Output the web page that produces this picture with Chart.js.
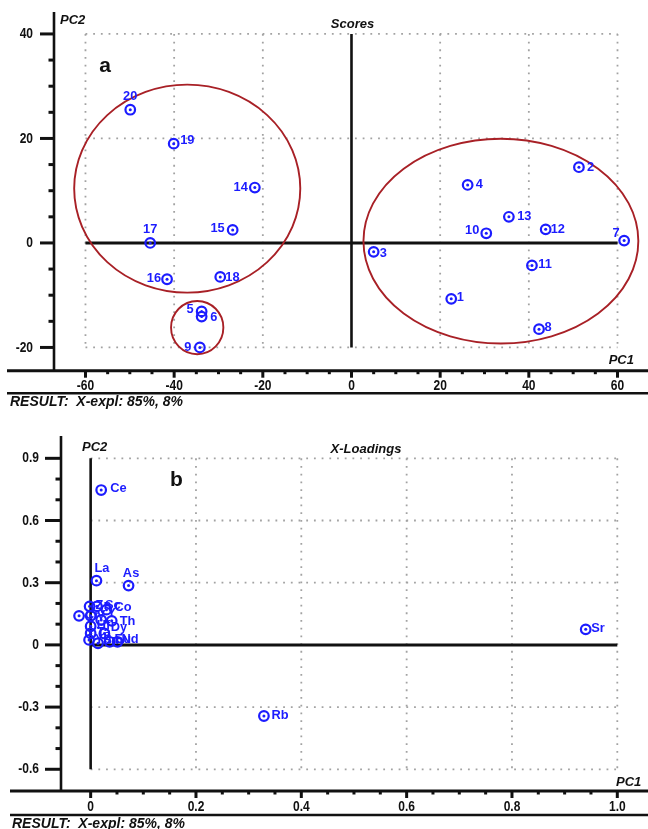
<!DOCTYPE html>
<html><head><meta charset="utf-8">
<script src="https://cdn.jsdelivr.net/npm/chart.js@4/dist/chart.umd.min.js"></script>
<style>
html,body{margin:0;padding:0;background:#fff;}
#wrap{position:relative;width:648px;height:829px;overflow:hidden;background:#fff;}
canvas{position:absolute;left:0;}
#c1{top:0;} #c2{top:410px;}
</style></head><body>
<div id="wrap"><canvas id="c1" width="648" height="410"></canvas><canvas id="c2" width="648" height="419"></canvas></div>
<script>
// ---------- Panel a: Scores ----------
const scoreLabels = ['1','2','3','4','5','6','7','8','9','10','11','12','13','14','15','16','17','18','19','20'];
const scorePC1 = [22.5, 51.3, 5.0, 26.2, -33.8, -33.8, 61.5, 42.3, -34.2, 30.4, 40.7, 43.8, 35.5, -21.8, -26.8, -41.6, -45.4, -29.6, -40.1, -49.9];
const scorePC2 = [-10.7, 14.5, -1.7, 11.1, -13.1, -14.1, 0.45, -16.5, -20.0, 1.85, -4.3, 2.6, 5.0, 10.6, 2.5, -6.95, 0.0, -6.5, 19.0, 25.5];
const scoreXTicks = [-60, -40, -20, 0, 20, 40, 60];
const scoreYTicks = [40, 20, 0, -20];
const groupCenterPC1 = [-37.05, -34.8, 33.7];
const groupCenterPC2 = [10.4, -16.2, 0.35];
const groupRadiusPC1 = [25.5, 5.9, 31.0];
const groupRadiusPC2 = [19.9, 5.1, 19.6];

// ---------- Panel b: X-Loadings ----------
const loadingLabels = ['Ce','La','As','Rb','Sr','Cr','Zn','Sc','Co','V','Y','Th','Hf','Ta','Dy','Yb','Sm','Eu','Nd'];
const loadingPC1 = [0.020, 0.011, 0.072, 0.329, 0.940, -0.022, -0.002, 0.012, 0.030, 0.000, 0.020, 0.040, 0.000, 0.000, 0.026, -0.003, 0.014, 0.036, 0.051];
const loadingPC2 = [0.747, 0.310, 0.286, -0.343, 0.075, 0.140, 0.186, 0.186, 0.170, 0.140, 0.120, 0.116, 0.090, 0.056, 0.055, 0.024, 0.008, 0.015, 0.015];
const loadXTicks = ['0', '0.2', '0.4', '0.6', '0.8', '1.0'];
const loadYTicks = ['0.9', '0.6', '0.3', '0', '-0.3', '-0.6'];

// ---------- styles ----------
const BLUE = 'rgb(28,28,255)';
const RED = 'rgb(168,32,38)';
const FA = "'Liberation Sans',Arial,'DejaVu Sans',sans-serif";

// label offsets [dx, dy, align] relative to marker centre (pixels)
const scoreLabelPos = {
  '1':[5.5,-2,'left'],'2':[8,0,'left'],'3':[6,1,'left'],'4':[8,-1,'left'],'5':[-8,-2,'right'],'6':[8.5,1,'left'],
  '7':[-4.5,-7.5,'right'],'8':[5.5,-2,'left'],'9':[-8.5,-0.6,'right'],'10':[-7,-2.6,'right'],'11':[6.3,-1,'left'],
  '12':[5,0,'left'],'13':[8.3,-0.5,'left'],'14':[-7,0,'right'],'15':[-8,-1.3,'right'],'16':[-6,-1,'right'],
  '17':[0,-13.7,'center'],'18':[5,0,'left'],'19':[6.5,-3,'left'],'20':[0,-13.3,'center']
};
const loadLabelPos = {
  'Ce':[9,-2,'left'],'La':[-2,-12,'left'],'As':[2.5,-12,'center'],'Rb':[7.5,-1,'left'],'Sr':[5.5,-1,'left'],
  'Sc':[8,-1.5,'left'],'Co':[8,-2,'left'],'Y':[6,-7,'left'],'Th':[8,0,'left'],'Dy':[6.5,-6.6,'left'],
  'Sm':[5,-3,'left'],'Eu':[5,-3,'left'],'Nd':[4,-3,'left']
};

function seg(ctx, x1, y1, x2, y2) { ctx.beginPath(); ctx.moveTo(x1, y1); ctx.lineTo(x2, y2); ctx.stroke(); }
// horizontally condensed text (the reference uses a narrow face)
function narrowText(ctx, t, x, y, align, sx) {
  ctx.save(); ctx.translate(x, y); ctx.scale(sx, 1); ctx.textAlign = align; ctx.fillText(t, 0, 0); ctx.restore();
}

function panelPlugin(p) {
  return {
    id: 'panel_' + p.id,
    beforeDatasetsDraw(chart) {
      const ctx = chart.ctx, xs = chart.scales.x, ys = chart.scales.y;
      const X = v => xs.getPixelForValue(v), Y = v => ys.getPixelForValue(v);
      const xt = p.xTicks.map(Number), yt = p.yTicks.map(Number);
      const x0 = xt[0], x1 = xt[xt.length - 1], yTop = yt[0], yBot = yt[yt.length - 1];
      ctx.save();
      ctx.strokeStyle = '#a2a2a2'; ctx.lineWidth = 1.8; ctx.setLineDash([1.8, 5.9]);
      xt.filter(v => v !== 0).forEach(v => seg(ctx, X(v), Y(yTop), X(v), Y(yBot)));
      yt.filter(v => v !== 0).forEach(v => seg(ctx, X(x0), Y(v), X(x1), Y(v)));
      ctx.setLineDash([]);
      ctx.strokeStyle = '#111'; ctx.lineWidth = 3;
      seg(ctx, X(x0), Y(0), X(x1), Y(0));
      ctx.lineWidth = 2.6;
      seg(ctx, X(0), Y(yTop), X(0), Y(yBot));
      if (p.groups) {
        ctx.strokeStyle = RED; ctx.lineWidth = 1.9;
        p.groups.cx.forEach((cx, i) => {
          const cy = p.groups.cy[i];
          const rx = Math.abs(X(cx + p.groups.rx[i]) - X(cx));
          const ry = Math.abs(Y(cy + p.groups.ry[i]) - Y(cy));
          ctx.beginPath(); ctx.ellipse(X(cx), Y(cy), rx, ry, 0, 0, Math.PI * 2); ctx.stroke();
        });
      }
      ctx.restore();
    },
    afterDatasetsDraw(chart) {
      const ctx = chart.ctx;
      const meta = chart.getDatasetMeta(0);
      ctx.save();
      ctx.fillStyle = BLUE; ctx.font = 'bold 13.5px ' + FA; ctx.textBaseline = 'middle';
      p.names.forEach((n, i) => {
        const el = meta.data[i];
        const o = p.labelPos[n] || [6, -1, 'left'];
        narrowText(ctx, n, el.x + o[0], el.y + o[1], o[2], 0.95);
      });
      ctx.restore();
    },
    afterDraw(chart) {
      const ctx = chart.ctx, xs = chart.scales.x, ys = chart.scales.y, ca = chart.chartArea;
      const X = v => xs.getPixelForValue(v), Y = v => ys.getPixelForValue(v);
      const xt = p.xTicks.map(Number), yt = p.yTicks.map(Number);
      ctx.save();
      ctx.strokeStyle = '#111'; ctx.fillStyle = '#111';
      ctx.lineWidth = 2.6; seg(ctx, ca.left, ca.top, ca.left, ca.bottom);
      ctx.lineWidth = 3;
      yt.forEach(v => seg(ctx, ca.left - p.yMajorLen, Y(v), ca.left, Y(v)));
      for (let k = 0; k < yt.length - 1; k++) {
        for (let j = 1; j < p.yMinorDiv; j++) {
          const v = yt[k] + (yt[k + 1] - yt[k]) * j / p.yMinorDiv;
          seg(ctx, ca.left - 5.5, Y(v), ca.left, Y(v));
        }
      }
      ctx.lineWidth = 3;
      seg(ctx, p.axisStart, ca.bottom, chart.width, ca.bottom);
      ctx.lineWidth = 2.6;
      seg(ctx, p.axisStart, ca.bottom + p.secondGap, chart.width, ca.bottom + p.secondGap);
      ctx.lineWidth = 3;
      xt.forEach(v => seg(ctx, X(v), ca.bottom, X(v), ca.bottom + 7));
      for (let k = 0; k < xt.length - 1; k++) {
        for (let j = 1; j < p.xMinorDiv; j++) {
          const v = xt[k] + (xt[k + 1] - xt[k]) * j / p.xMinorDiv;
          seg(ctx, X(v), ca.bottom, X(v), ca.bottom + 3.5);
        }
      }
      ctx.font = 'bold 15px ' + FA; ctx.textBaseline = 'middle';
      p.yTicks.forEach(t => narrowText(ctx, String(t), ca.left - p.yLabelGap, Y(Number(t)), 'right', 0.8));
      p.xTicks.forEach(t => narrowText(ctx, String(t), X(Number(t)), ca.bottom + 15.5, 'center', 0.8));
      ctx.font = 'italic bold 13px ' + FA;
      ctx.textAlign = 'left';
      ctx.fillText('PC2', p.pc2[0], p.pc2[1]);
      ctx.textAlign = 'center';
      ctx.fillText('PC1', p.pc1[0], p.pc1[1]);
      ctx.fillText(p.title, p.titlePos[0], p.titlePos[1]);
      ctx.font = 'italic bold 14px ' + FA; ctx.textAlign = 'left';
      ctx.fillText('RESULT:  X-expl: 85%, 8%', p.resultX, ca.bottom + p.secondGap + 9);
      ctx.font = 'bold 21px ' + FA; ctx.textAlign = 'center'; ctx.textBaseline = 'alphabetic';
      ctx.fillText(p.letter, p.letterPos[0], p.letterPos[1]);
      ctx.restore();
    }
  };
}

function makeChart(canvasId, xs, ys, pad, range, plugin) {
  const pts = xs.map((x, i) => ({ x: x, y: ys[i] }));
  return new Chart(document.getElementById(canvasId), {
    type: 'scatter',
    data: { datasets: [
      { data: pts, pointStyle: 'circle', pointRadius: 4.8, borderWidth: 2.2, borderColor: BLUE, backgroundColor: 'rgba(0,0,0,0)', hoverRadius: 4.8 },
      { data: pts, pointStyle: 'circle', pointRadius: 1.5, borderWidth: 0, backgroundColor: BLUE, hoverRadius: 1.5 }
    ] },
    options: {
      responsive: false, animation: false, events: [],
      layout: { padding: pad },
      plugins: { legend: { display: false }, tooltip: { enabled: false } },
      scales: {
        x: { type: 'linear', display: false, min: range[0], max: range[1] },
        y: { type: 'linear', display: false, min: range[2], max: range[3] }
      }
    },
    plugins: [plugin]
  });
}

makeChart('c1', scorePC1, scorePC2, { left: 54, top: 12, right: 0, bottom: 39.3 }, [-67.1, 65.3, -24.45, 44.2],
  panelPlugin({
    id: 'a', names: scoreLabels, labelPos: scoreLabelPos, xTicks: scoreXTicks, yTicks: scoreYTicks,
    groups: { cx: groupCenterPC1, cy: groupCenterPC2, rx: groupRadiusPC1, ry: groupRadiusPC2 },
    yMajorLen: 14, yMinorDiv: 4, xMinorDiv: 4, yLabelGap: 21, axisStart: 7, secondGap: 22.6,
    pc2: [60, 20], pc1: [621.3, 360], title: 'Scores', titlePos: [352.5, 24], resultX: 10,
    letter: 'a', letterPos: [105, 71.5]
  }));

makeChart('c2', loadingPC1, loadingPC2, { left: 61, top: 26, right: 0, bottom: 38 }, [-0.0563, 1.045, -0.7048, 1.0077],
  panelPlugin({
    id: 'b', names: loadingLabels, labelPos: loadLabelPos, xTicks: loadXTicks, yTicks: loadYTicks,
    groups: null,
    yMajorLen: 16, yMinorDiv: 3, xMinorDiv: 4, yLabelGap: 22, axisStart: 10, secondGap: 24,
    pc2: [82, 37], pc1: [628.7, 372.7], title: 'X-Loadings', titlePos: [366, 39], resultX: 12,
    letter: 'b', letterPos: [176.5, 76]
  }));
</script>
</body></html>
